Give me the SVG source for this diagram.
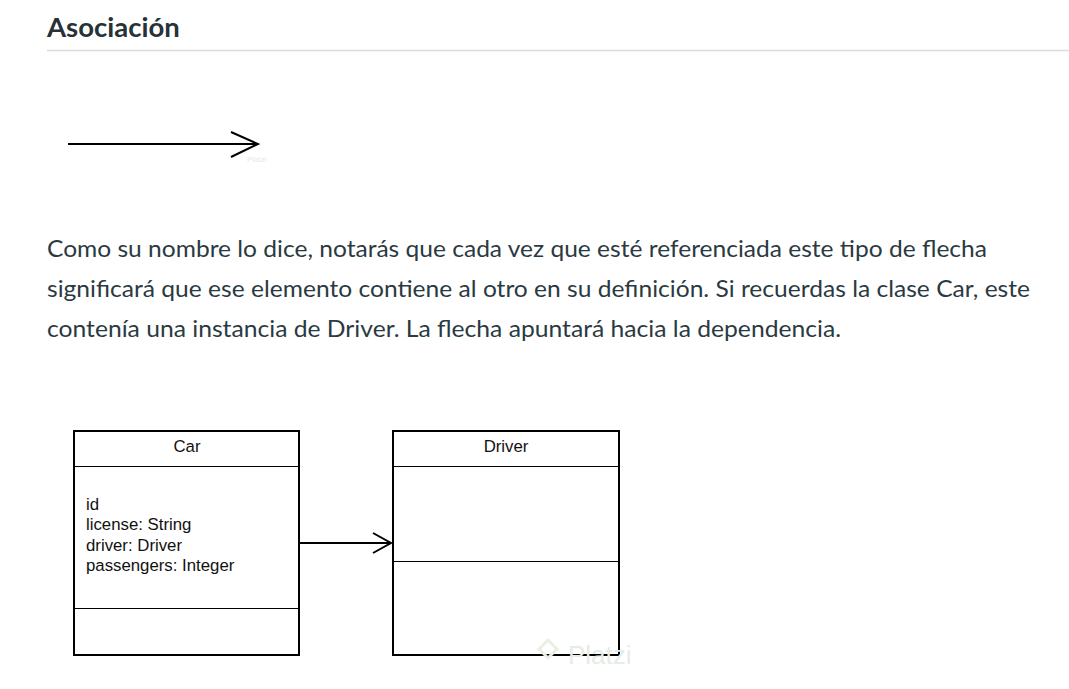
<svg xmlns="http://www.w3.org/2000/svg" width="1069" height="689" viewBox="0 0 1069 689">
<style>
.h{font-family:Lato,"Open Sans",sans-serif;font-weight:bold;font-size:27.5px;fill:#263238}
.p{font-family:Lato,"Open Sans",sans-serif;font-size:23.5px;fill:#2b3a42}
.u{font-family:"Liberation Sans",Arial,sans-serif;font-size:16.8px;fill:#111}
.box{fill:#fff;stroke:#000;stroke-width:2}
.div{stroke:#000;stroke-width:1.2}
.ln{stroke:#000;stroke-width:2;fill:none}
.wm{font-family:"Liberation Sans",Arial,sans-serif;fill:#e6ece6}
</style>
<rect width="1069" height="689" fill="#fff"/>
<text class="h" x="47" y="37">Asociación</text>
<line x1="47" y1="50.5" x2="1069" y2="50.5" stroke="#dcdcdc" stroke-width="1.5"/>
<g id="legend-arrow">
<line class="ln" x1="68" y1="144" x2="257" y2="144"/>
<polyline class="ln" points="231,132 258,144 231,157"/>
<text class="wm" x="247" y="162" font-size="8">Platzi</text>
</g>
<text class="p" x="47" y="257" textLength="940" lengthAdjust="spacingAndGlyphs">Como su nombre lo dice, notarás que cada vez que esté referenciada este tipo de flecha</text>
<text class="p" x="47" y="297" textLength="983" lengthAdjust="spacingAndGlyphs">significará que ese elemento contiene al otro en su definición. Si recuerdas la clase Car, este</text>
<text class="p" x="47" y="337" textLength="794" lengthAdjust="spacingAndGlyphs">contenía una instancia de Driver. La flecha apuntará hacia la dependencia.</text>
<g id="car">
<rect class="box" x="74" y="431" width="225" height="224"/>
<line class="div" x1="74" y1="466.5" x2="299" y2="466.5"/>
<line class="div" x1="74" y1="608.5" x2="299" y2="608.5"/>
<text class="u" x="187" y="452" text-anchor="middle">Car</text>
<text class="u" x="86" y="510">id</text>
<text class="u" x="86" y="530">license: String</text>
<text class="u" x="86" y="550.5">driver: Driver</text>
<text class="u" x="86" y="570.5">passengers: Integer</text>
</g>
<g id="driver">
<rect class="box" x="393" y="431" width="226" height="224"/>
<line class="div" x1="393" y1="466.5" x2="619" y2="466.5"/>
<line class="div" x1="393" y1="561.5" x2="619" y2="561.5"/>
<text class="u" x="506" y="452" text-anchor="middle">Driver</text>
</g>
<g id="connectors">
<line class="ln" x1="300" y1="543" x2="391" y2="543"/>
<polyline class="ln" points="373,533 391,543 373,553"/>
</g>
<g id="watermark">
<path d="M548,640 l9,9 -9,9 -9,-9z" fill="none" stroke="#e8f0e4" stroke-width="3"/>
<text class="wm" x="568" y="664" font-size="26">Platzi</text>
</g>
</svg>
